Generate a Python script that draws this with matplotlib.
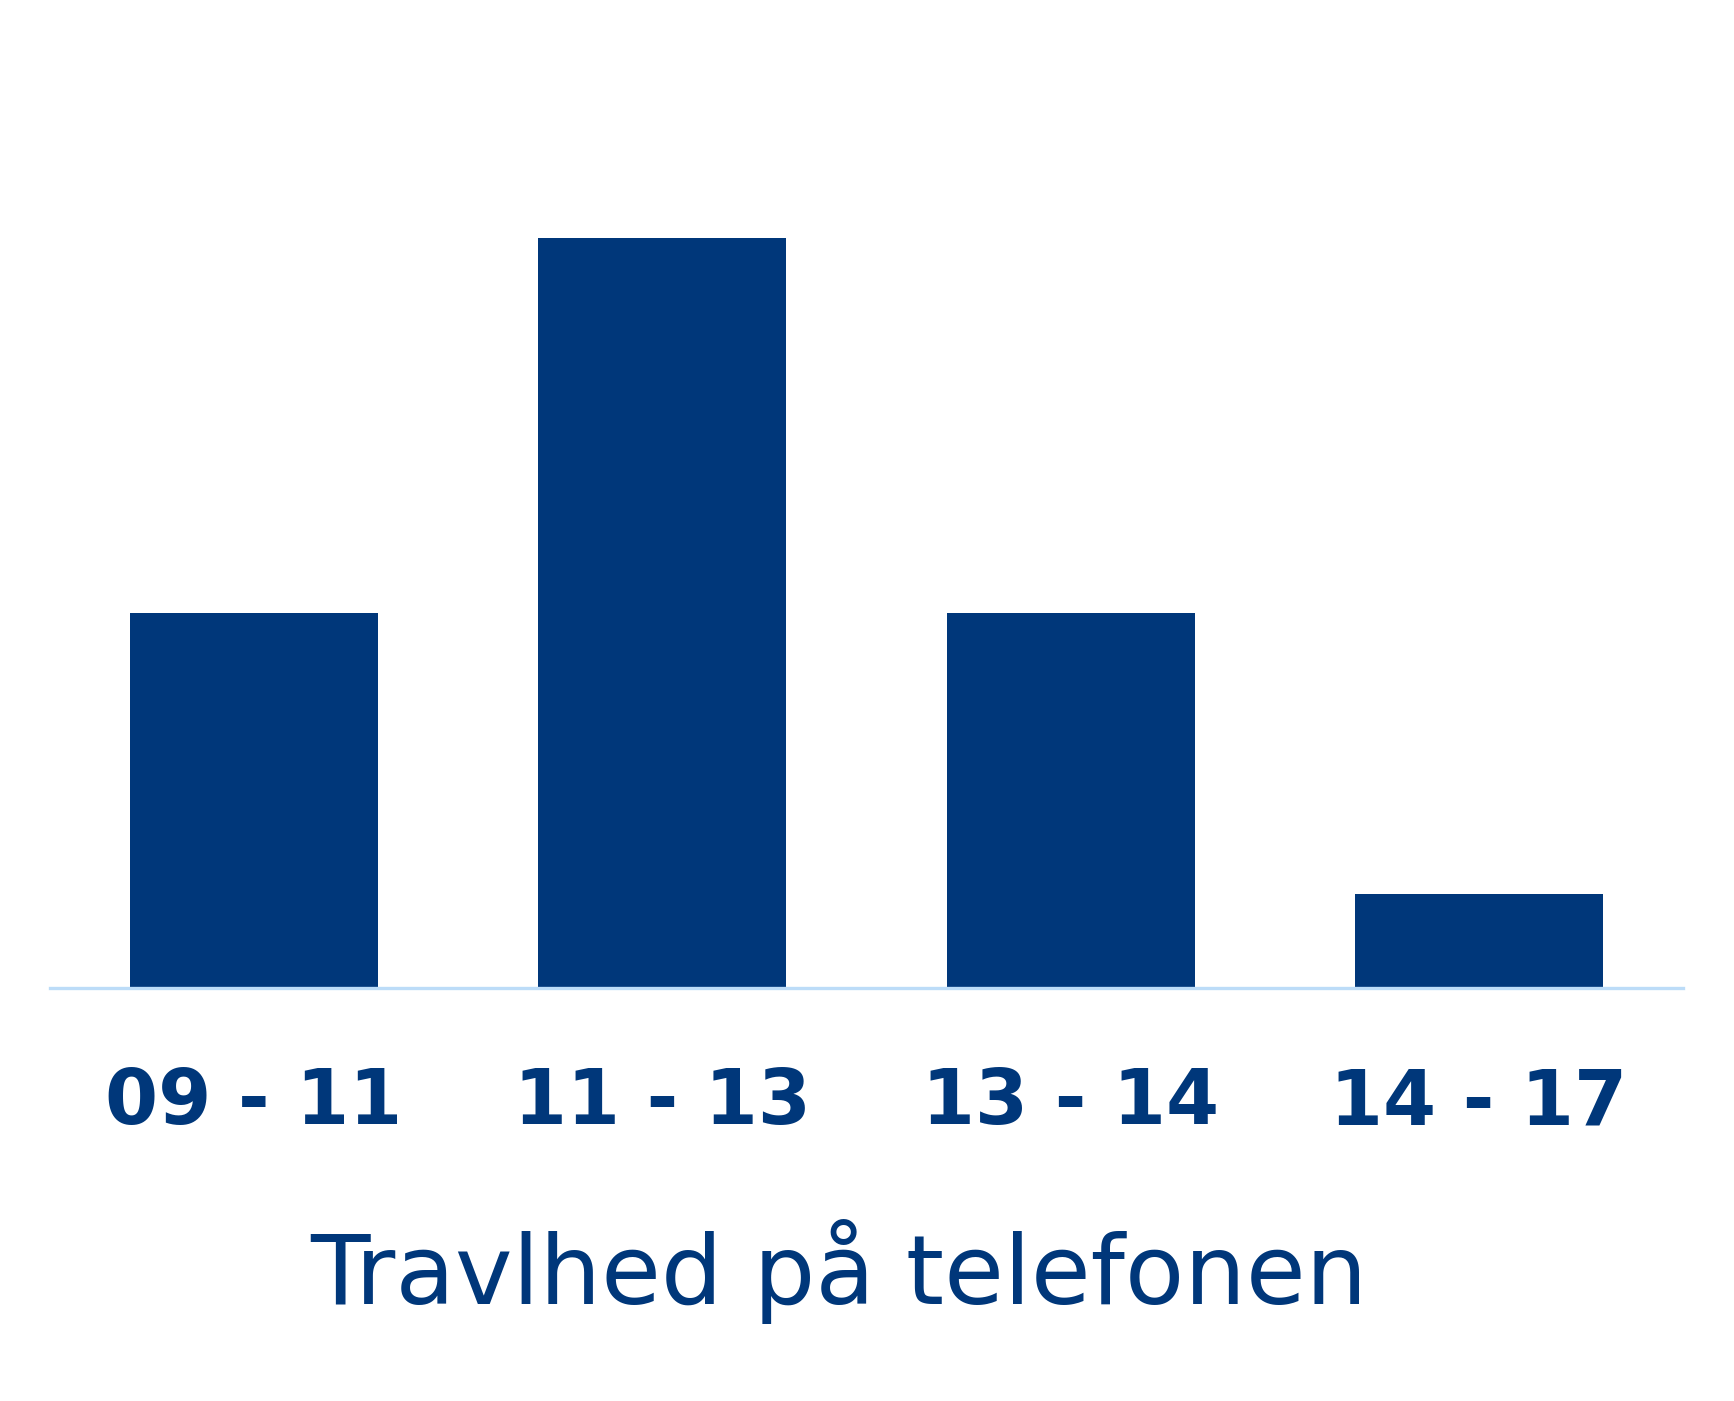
import matplotlib
matplotlib.use("Agg")
import matplotlib.pyplot as plt

categories = ["09 - 11", "11 - 13", "13 - 14", "14 - 17"]
values = [4, 8, 4, 1]
title = "Travlhed på telefonen"

navy = "#00377A"
light = "#BCDCF8"

fig = plt.figure(figsize=(17.34, 14.01), dpi=100)
ax = fig.add_axes([0.0287, 0.2946, 0.942, 0.6024])
x = list(range(len(categories)))
ax.bar(x, values, width=0.607, color=navy, zorder=2)
ax.set_xlim(-0.5, len(categories) - 0.5)
ax.set_ylim(0, 9.0)
for s in ["top", "right", "left"]:
    ax.spines[s].set_visible(False)
ax.spines["bottom"].set_color(light)
ax.spines["bottom"].set_linewidth(2.4)
ax.set_yticks([])
ax.set_xticks(x)
ax.set_xticklabels(categories, fontsize=55, fontweight="bold", color=navy,
                   family=["DejaVu Sans"])
ax.tick_params(axis="x", length=0, pad=56)

fig.text(0.484, 0.0695, title, ha="center", va="baseline", fontsize=70,
         color=navy, family=["DejaVu Sans"])

fig.savefig("out.png", dpi=100, facecolor="white")
